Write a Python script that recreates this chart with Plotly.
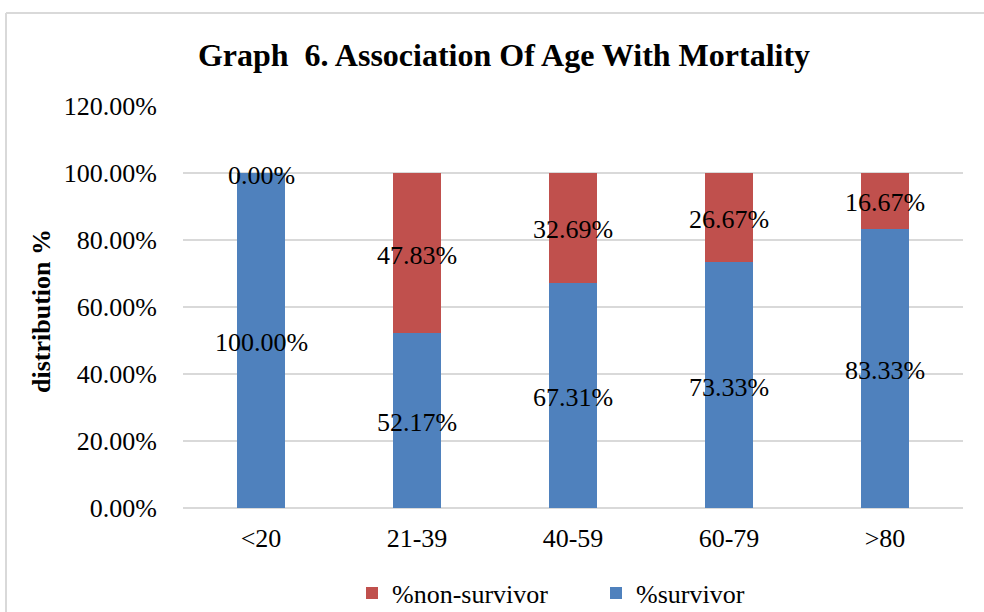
import plotly.graph_objects as go

# Age groups and outcome shares (percent)
age_groups = ["<20", "21-39", "40-59", "60-79", ">80"]
survivor = [100.00, 52.17, 67.31, 73.33, 83.33]
non_survivor = [0.00, 47.83, 32.69, 26.67, 16.67]
y_ticks = [0, 20, 40, 60, 80, 100, 120]

FONT = "Liberation Serif, Times New Roman, serif"
BLUE = "#4F81BD"
RED = "#C0504D"
FS = 26

W, H = 984, 612
L, R, T, B = 183, 21, 106, 104
PW, PH = W - L - R, H - T - B

fig = go.Figure()
fig.add_trace(go.Bar(x=age_groups, y=survivor, name="%survivor",
                     marker=dict(color=BLUE, line=dict(width=0)), width=0.31))
fig.add_trace(go.Bar(x=age_groups, y=non_survivor, name="%non-survivor",
                     marker=dict(color=RED, line=dict(width=0)), width=0.31))

# Value labels centred on each stacked segment
surv_mid = [s / 2 for s in survivor]
non_mid = [s + n / 2 for s, n in zip(survivor, non_survivor)]
for cat, mid, val in zip(age_groups * 2, surv_mid + non_mid, survivor + non_survivor):
    fig.add_annotation(x=cat, y=mid, xref="x", yref="y", text=f"{val:.2f}%",
                       showarrow=False, xanchor="center", yanchor="middle", yshift=-2,
                       font=dict(family=FONT, size=FS, color="#000000"))

fig.update_layout(
    width=W, height=H,
    margin=dict(l=L, r=R, t=T, b=B, autoexpand=False),
    barmode="stack",
    paper_bgcolor="white", plot_bgcolor="white",
    font=dict(family=FONT, size=FS, color="#000000"),
    title=dict(text="<b>Graph  6. Association Of Age With Mortality</b>",
               x=504 / W, xanchor="center", y=1 - 55 / H, yanchor="middle",
               font=dict(family=FONT, size=32, color="#000000")),
    xaxis=dict(showgrid=False, showline=False, ticks="", ticklabelstandoff=12,
               tickfont=dict(family=FONT, size=FS), zeroline=False),
    yaxis=dict(range=[0, 120], tickvals=y_ticks,
               ticktext=[f"{v:.2f}%" for v in y_ticks],
               showgrid=True, gridcolor="#D9D9D9", gridwidth=1.5,
               zeroline=True, zerolinecolor="#D9D9D9", zerolinewidth=1.5,
               showline=False, ticks="", ticklabelstandoff=25,
               tickfont=dict(family=FONT, size=FS)),
    legend=dict(orientation="h", traceorder="reversed",
                x=(596 - L) / PW, xanchor="center",
                y=-(593 - (T + PH)) / PH, yanchor="middle",
                entrywidth=199, entrywidthmode="pixels",
                font=dict(family=FONT, size=FS)),
    bargap=0.69,
)

# Y axis title
fig.add_annotation(text="<b>distribution %</b>", textangle=-90,
                   xref="paper", yref="paper",
                   x=(41 - L) / PW, y=(H - B - 311) / PH,
                   xanchor="center", yanchor="middle", showarrow=False,
                   font=dict(family=FONT, size=FS, color="#000000"))

# Chart frame (top and left edges)
fig.add_shape(type="line", xref="paper", yref="paper",
              x0=(6 - L) / PW, x1=(W + 5 - L) / PW,
              y0=(H - B - 13) / PH, y1=(H - B - 13) / PH,
              line=dict(color="#D9D9D9", width=2))
fig.add_shape(type="line", xref="paper", yref="paper",
              x0=(6 - L) / PW, x1=(6 - L) / PW,
              y0=(H - B - 13) / PH, y1=(H - B - H - 5) / PH,
              line=dict(color="#D9D9D9", width=2))

fig.write_html("out.html")
